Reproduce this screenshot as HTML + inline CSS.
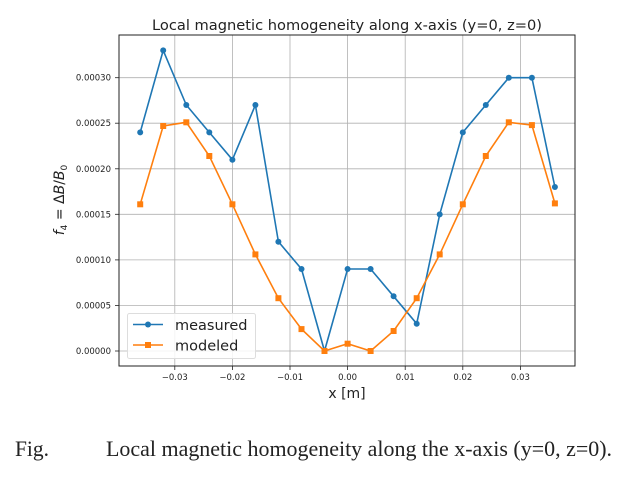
<!DOCTYPE html>
<html><head><meta charset="utf-8"><style>body{margin:0;background:#fff}svg{display:block}</style></head><body>
<svg width="628" height="479" viewBox="0 0 628 479" xmlns="http://www.w3.org/2000/svg" font-family="DejaVu Sans, Liberation Sans, sans-serif">
<rect width="628" height="479" fill="#fff"/>
<g stroke="#b0b0b0" stroke-width="0.8">
<line x1="119" x2="575" y1="351" y2="351"/><line x1="119" x2="575" y1="305.4" y2="305.4"/><line x1="119" x2="575" y1="259.9" y2="259.9"/><line x1="119" x2="575" y1="214.3" y2="214.3"/><line x1="119" x2="575" y1="168.8" y2="168.8"/><line x1="119" x2="575" y1="123.2" y2="123.2"/><line x1="119" x2="575" y1="77.7" y2="77.7"/>
<line y1="35" y2="366" x1="174.8" x2="174.8"/><line y1="35" y2="366" x1="232.4" x2="232.4"/><line y1="35" y2="366" x1="290" x2="290"/><line y1="35" y2="366" x1="347.6" x2="347.6"/><line y1="35" y2="366" x1="405.2" x2="405.2"/><line y1="35" y2="366" x1="462.8" x2="462.8"/><line y1="35" y2="366" x1="520.4" x2="520.4"/>
</g>
<rect x="119" y="35" width="456" height="331" fill="none" stroke="#222" stroke-width="1"/>
<g stroke="#222" stroke-width="0.8">
<line x1="115" x2="119" y1="351" y2="351"/><line x1="115" x2="119" y1="305.4" y2="305.4"/><line x1="115" x2="119" y1="259.9" y2="259.9"/><line x1="115" x2="119" y1="214.3" y2="214.3"/><line x1="115" x2="119" y1="168.8" y2="168.8"/><line x1="115" x2="119" y1="123.2" y2="123.2"/><line x1="115" x2="119" y1="77.7" y2="77.7"/>
<line y1="366" y2="370" x1="174.8" x2="174.8"/><line y1="366" y2="370" x1="232.4" x2="232.4"/><line y1="366" y2="370" x1="290" x2="290"/><line y1="366" y2="370" x1="347.6" x2="347.6"/><line y1="366" y2="370" x1="405.2" x2="405.2"/><line y1="366" y2="370" x1="462.8" x2="462.8"/><line y1="366" y2="370" x1="520.4" x2="520.4"/>
</g>
<g font-size="8.5" fill="#222" text-anchor="end">
<text x="111" y="354">0.00000</text><text x="111" y="308.4">0.00005</text><text x="111" y="262.9">0.00010</text><text x="111" y="217.3">0.00015</text><text x="111" y="171.8">0.00020</text><text x="111" y="126.2">0.00025</text><text x="111" y="80.7">0.00030</text>
</g>
<g font-size="8.5" fill="#222" text-anchor="middle">
<text x="174.8" y="380">−0.03</text><text x="232.4" y="380">−0.02</text><text x="290" y="380">−0.01</text><text x="347.6" y="380">0.00</text><text x="405.2" y="380">0.01</text><text x="462.8" y="380">0.02</text><text x="520.4" y="380">0.03</text>
</g>
<text x="347" y="398" font-size="14" text-anchor="middle" fill="#222">x [m]</text>
<text x="347" y="30" font-size="14" text-anchor="middle" fill="#222" textLength="390" lengthAdjust="spacingAndGlyphs">Local magnetic homogeneity along x-axis (y=0, z=0)</text>
<text transform="translate(64,200) rotate(-90)" font-size="14" text-anchor="middle" fill="#222"><tspan font-style="italic">f</tspan><tspan font-size="9" dy="3">4</tspan><tspan dy="-3"> = Δ</tspan><tspan font-style="italic">B</tspan>/<tspan font-style="italic">B</tspan><tspan font-size="9" dy="3">0</tspan></text>
<polyline fill="none" stroke="#1f77b4" stroke-width="1.6" points="140.2,132.4 163.2,50.4 186.3,105 209.3,132.4 232.4,159.7 255.4,105 278.4,241.7 301.5,269 324.5,351 347.6,269 370.6,269 393.6,296.3 416.7,323.7 439.7,214.4 462.8,132.4 485.8,105 508.8,77.7 531.9,77.7 554.9,187"/>
<g fill="#1f77b4">
<circle cx="140.2" cy="132.4" r="3"/><circle cx="163.2" cy="50.4" r="3"/><circle cx="186.3" cy="105" r="3"/><circle cx="209.3" cy="132.4" r="3"/><circle cx="232.4" cy="159.7" r="3"/><circle cx="255.4" cy="105" r="3"/><circle cx="278.4" cy="241.7" r="3"/><circle cx="301.5" cy="269" r="3"/><circle cx="324.5" cy="351" r="3"/><circle cx="347.6" cy="269" r="3"/><circle cx="370.6" cy="269" r="3"/><circle cx="393.6" cy="296.3" r="3"/><circle cx="416.7" cy="323.7" r="3"/><circle cx="439.7" cy="214.4" r="3"/><circle cx="462.8" cy="132.4" r="3"/><circle cx="485.8" cy="105" r="3"/><circle cx="508.8" cy="77.7" r="3"/><circle cx="531.9" cy="77.7" r="3"/><circle cx="554.9" cy="187" r="3"/>
</g>
<polyline fill="none" stroke="#ff7f0e" stroke-width="1.6" points="140.2,204.3 163.2,126 186.3,122.3 209.3,156 232.4,204.3 255.4,254.4 278.4,298.2 301.5,329.1 324.5,351 347.6,343.7 370.6,351 393.6,331 416.7,298.2 439.7,254.4 462.8,204.3 485.8,156 508.8,122.3 531.9,125.1 554.9,203.4"/>
<g fill="#ff7f0e">
<rect x="137.2" y="201.3" width="6" height="6"/><rect x="160.2" y="123" width="6" height="6"/><rect x="183.3" y="119.3" width="6" height="6"/><rect x="206.3" y="153" width="6" height="6"/><rect x="229.4" y="201.3" width="6" height="6"/><rect x="252.4" y="251.4" width="6" height="6"/><rect x="275.4" y="295.2" width="6" height="6"/><rect x="298.5" y="326.1" width="6" height="6"/><rect x="321.5" y="348" width="6" height="6"/><rect x="344.6" y="340.7" width="6" height="6"/><rect x="367.6" y="348" width="6" height="6"/><rect x="390.6" y="328" width="6" height="6"/><rect x="413.7" y="295.2" width="6" height="6"/><rect x="436.7" y="251.4" width="6" height="6"/><rect x="459.8" y="201.3" width="6" height="6"/><rect x="482.8" y="153" width="6" height="6"/><rect x="505.8" y="119.3" width="6" height="6"/><rect x="528.9" y="122.1" width="6" height="6"/><rect x="551.9" y="200.4" width="6" height="6"/>
</g>
<rect x="127.5" y="313.5" width="128" height="45" rx="2" fill="#fff" fill-opacity="0.85" stroke="#ddd"/>
<line x1="133" x2="163" y1="324.5" y2="324.5" stroke="#1f77b4" stroke-width="1.6"/><circle cx="148" cy="324.5" r="3" fill="#1f77b4"/>
<line x1="133" x2="163" y1="345" y2="345" stroke="#ff7f0e" stroke-width="1.6"/><rect x="145" y="342" width="6" height="6" fill="#ff7f0e"/>
<text x="175" y="330" font-size="14.5" fill="#222">measured</text>
<text x="175" y="350.5" font-size="14.5" fill="#222">modeled</text>
<text x="15" y="456" font-family="Liberation Serif, serif" font-size="22" fill="#222" textLength="34" lengthAdjust="spacingAndGlyphs">Fig.</text>
<text x="106" y="456" font-family="Liberation Serif, serif" font-size="22" fill="#222" textLength="506" lengthAdjust="spacingAndGlyphs">Local magnetic homogeneity along the x-axis (y=0, z=0).</text>
</svg>
</body></html>
